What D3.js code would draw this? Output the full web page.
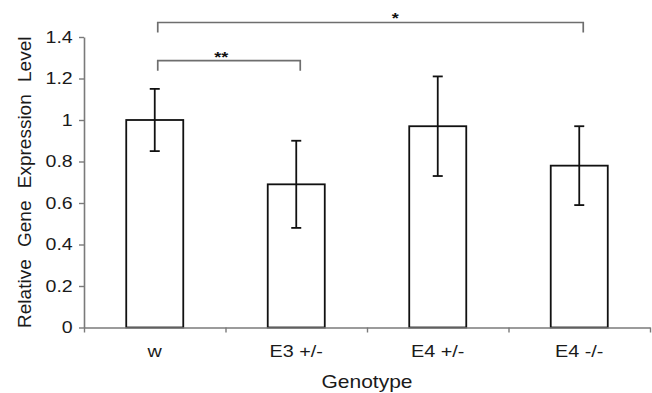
<!DOCTYPE html>
<html>
<head>
<meta charset="utf-8">
<script src="https://cdn.jsdelivr.net/npm/d3@7"></script>
<style>
  html, body { margin: 0; padding: 0; background: #fff; }
  svg { display: block; font-family: "Liberation Sans", Arial, Helvetica, sans-serif; }
</style>
</head>
<body>
<svg id="chart" width="652" height="393"></svg>
<script>
// ---- data ----
const categories = ["w", "E3 +/-", "E4 +/-", "E4 -/-"];
const means      = [1.00, 0.69, 0.97, 0.78];
const errors     = [0.15, 0.21, 0.24, 0.19];
const yTicks      = [0, 0.2, 0.4, 0.6, 0.8, 1, 1.2, 1.4];
const yTickLabels = ["0", "0.2", "0.4", "0.6", "0.8", "1", "1.2", "1.4"];
const bracketFrom  = ["w", "w"];
const bracketTo    = ["E4 -/-", "E3 +/-"];
const bracketLevel = [1.47, 1.286];
const bracketLabel = ["*", "**"];
const bracketLabelAt = [2.20, 0.97]; // position in category units along x
const yTitle = "Relative Gene Expression Level";
const xTitle = "Genotype";

// ---- layout ----
const svg = d3.select("#chart");
const x0 = 84, x1 = 650, yBase = 327.5, yTop = 37;
const SX = 1.2; // horizontal stretch of the original figure's text

const x = d3.scaleBand().domain(categories).range([x0, x1]).paddingInner(0.597).paddingOuter(0.2985);
const xUnits = d3.scaleLinear().domain([0, categories.length]).range([x0, x1]);
const y = d3.scaleLinear().domain([0, 1.4]).range([yBase, yTop]);

const axisColor = "#7a7a7a";

// bars
const data = categories.map((c, i) => ({ c, m: means[i], e: errors[i] }));
svg.append("g").selectAll("rect").data(data).join("rect")
  .attr("x", d => x(d.c))
  .attr("y", d => y(d.m))
  .attr("width", x.bandwidth())
  .attr("height", d => y(0) - y(d.m))
  .attr("fill", "#fff")
  .attr("stroke", "#111")
  .attr("stroke-width", 1.8);

// error bars
const eg = svg.append("g").attr("stroke", "#111").attr("stroke-width", 1.8);
data.forEach(d => {
  const cx = x(d.c) + x.bandwidth() / 2;
  eg.append("line").attr("x1", cx).attr("x2", cx).attr("y1", y(d.m + d.e)).attr("y2", y(d.m - d.e));
  eg.append("line").attr("x1", cx - 5).attr("x2", cx + 5).attr("y1", y(d.m + d.e)).attr("y2", y(d.m + d.e));
  eg.append("line").attr("x1", cx - 5).attr("x2", cx + 5).attr("y1", y(d.m - d.e)).attr("y2", y(d.m - d.e));
});

// y axis
const yAxis = d3.axisLeft(y).tickValues(yTicks).tickSize(5).tickSizeOuter(0)
  .tickFormat((d, i) => yTickLabels[i]);
const gy = svg.append("g").attr("transform", `translate(${x0},0)`).call(yAxis);
gy.select(".domain").attr("stroke", axisColor).attr("stroke-width", 1.6);
gy.selectAll(".tick line").attr("stroke", axisColor).attr("stroke-width", 1.4);
gy.selectAll(".tick text")
  .attr("font-size", 16.3).attr("fill", "#1a1a1a")
  .attr("font-family", "Liberation Sans, Arial, sans-serif")
  .attr("x", -11.3 / SX).attr("transform", `scale(${SX},1)`);

// x axis line and boundary ticks
const xAxisTicks = d3.axisBottom(xUnits).tickValues(d3.range(categories.length + 1))
  .tickSize(5).tickSizeOuter(0).tickFormat("");
const gx = svg.append("g").attr("transform", `translate(0,${yBase})`).call(xAxisTicks);
gx.select(".domain").attr("stroke", axisColor).attr("stroke-width", 1.6);
gx.selectAll(".tick line").attr("stroke", axisColor).attr("stroke-width", 1.4);

// x category labels
const xLabels = d3.axisBottom(x).tickSize(0);
const gxl = svg.append("g").attr("transform", `translate(0,${yBase})`).call(xLabels);
gxl.select(".domain").remove();
gxl.selectAll(".tick text")
  .attr("font-size", 16.5).attr("fill", "#1a1a1a")
  .attr("font-family", "Liberation Sans, Arial, sans-serif")
  .attr("y", 30).attr("dy", 0)
  .attr("transform", `scale(${SX},1)`);

// axis titles
svg.append("text")
  .attr("transform", `translate(${(x0 + x1) / 2},388) scale(${SX},1)`)
  .attr("text-anchor", "middle").attr("font-size", 17.5).attr("fill", "#1a1a1a")
  .text(xTitle);
svg.append("text")
  .attr("transform", `translate(31,${(yBase + yTop) / 2}) rotate(-90)`)
  .attr("text-anchor", "middle").attr("font-size", 19).attr("fill", "#1a1a1a")
  .attr("word-spacing", 7)
  .text(yTitle);

// significance brackets
const bg = svg.append("g");
bracketFrom.forEach((f, i) => {
  const xa = x(f) + x.bandwidth() / 2 + 3;
  const xb = x(bracketTo[i]) + x.bandwidth() / 2 + 4;
  const yl = y(bracketLevel[i]);
  bg.append("path")
    .attr("d", `M${xa},${yl + 10}V${yl}H${xb}V${yl + 10}`)
    .attr("fill", "none").attr("stroke", "#6e6e6e").attr("stroke-width", 1.7);
  bg.append("text")
    .attr("transform", `translate(${xUnits(bracketLabelAt[i])},${yl + 1}) scale(${SX},1)`)
    .attr("text-anchor", "middle").attr("font-size", 15).attr("font-weight", "bold")
    .attr("fill", "#111")
    .text(bracketLabel[i]);
});
</script>
</body>
</html>
